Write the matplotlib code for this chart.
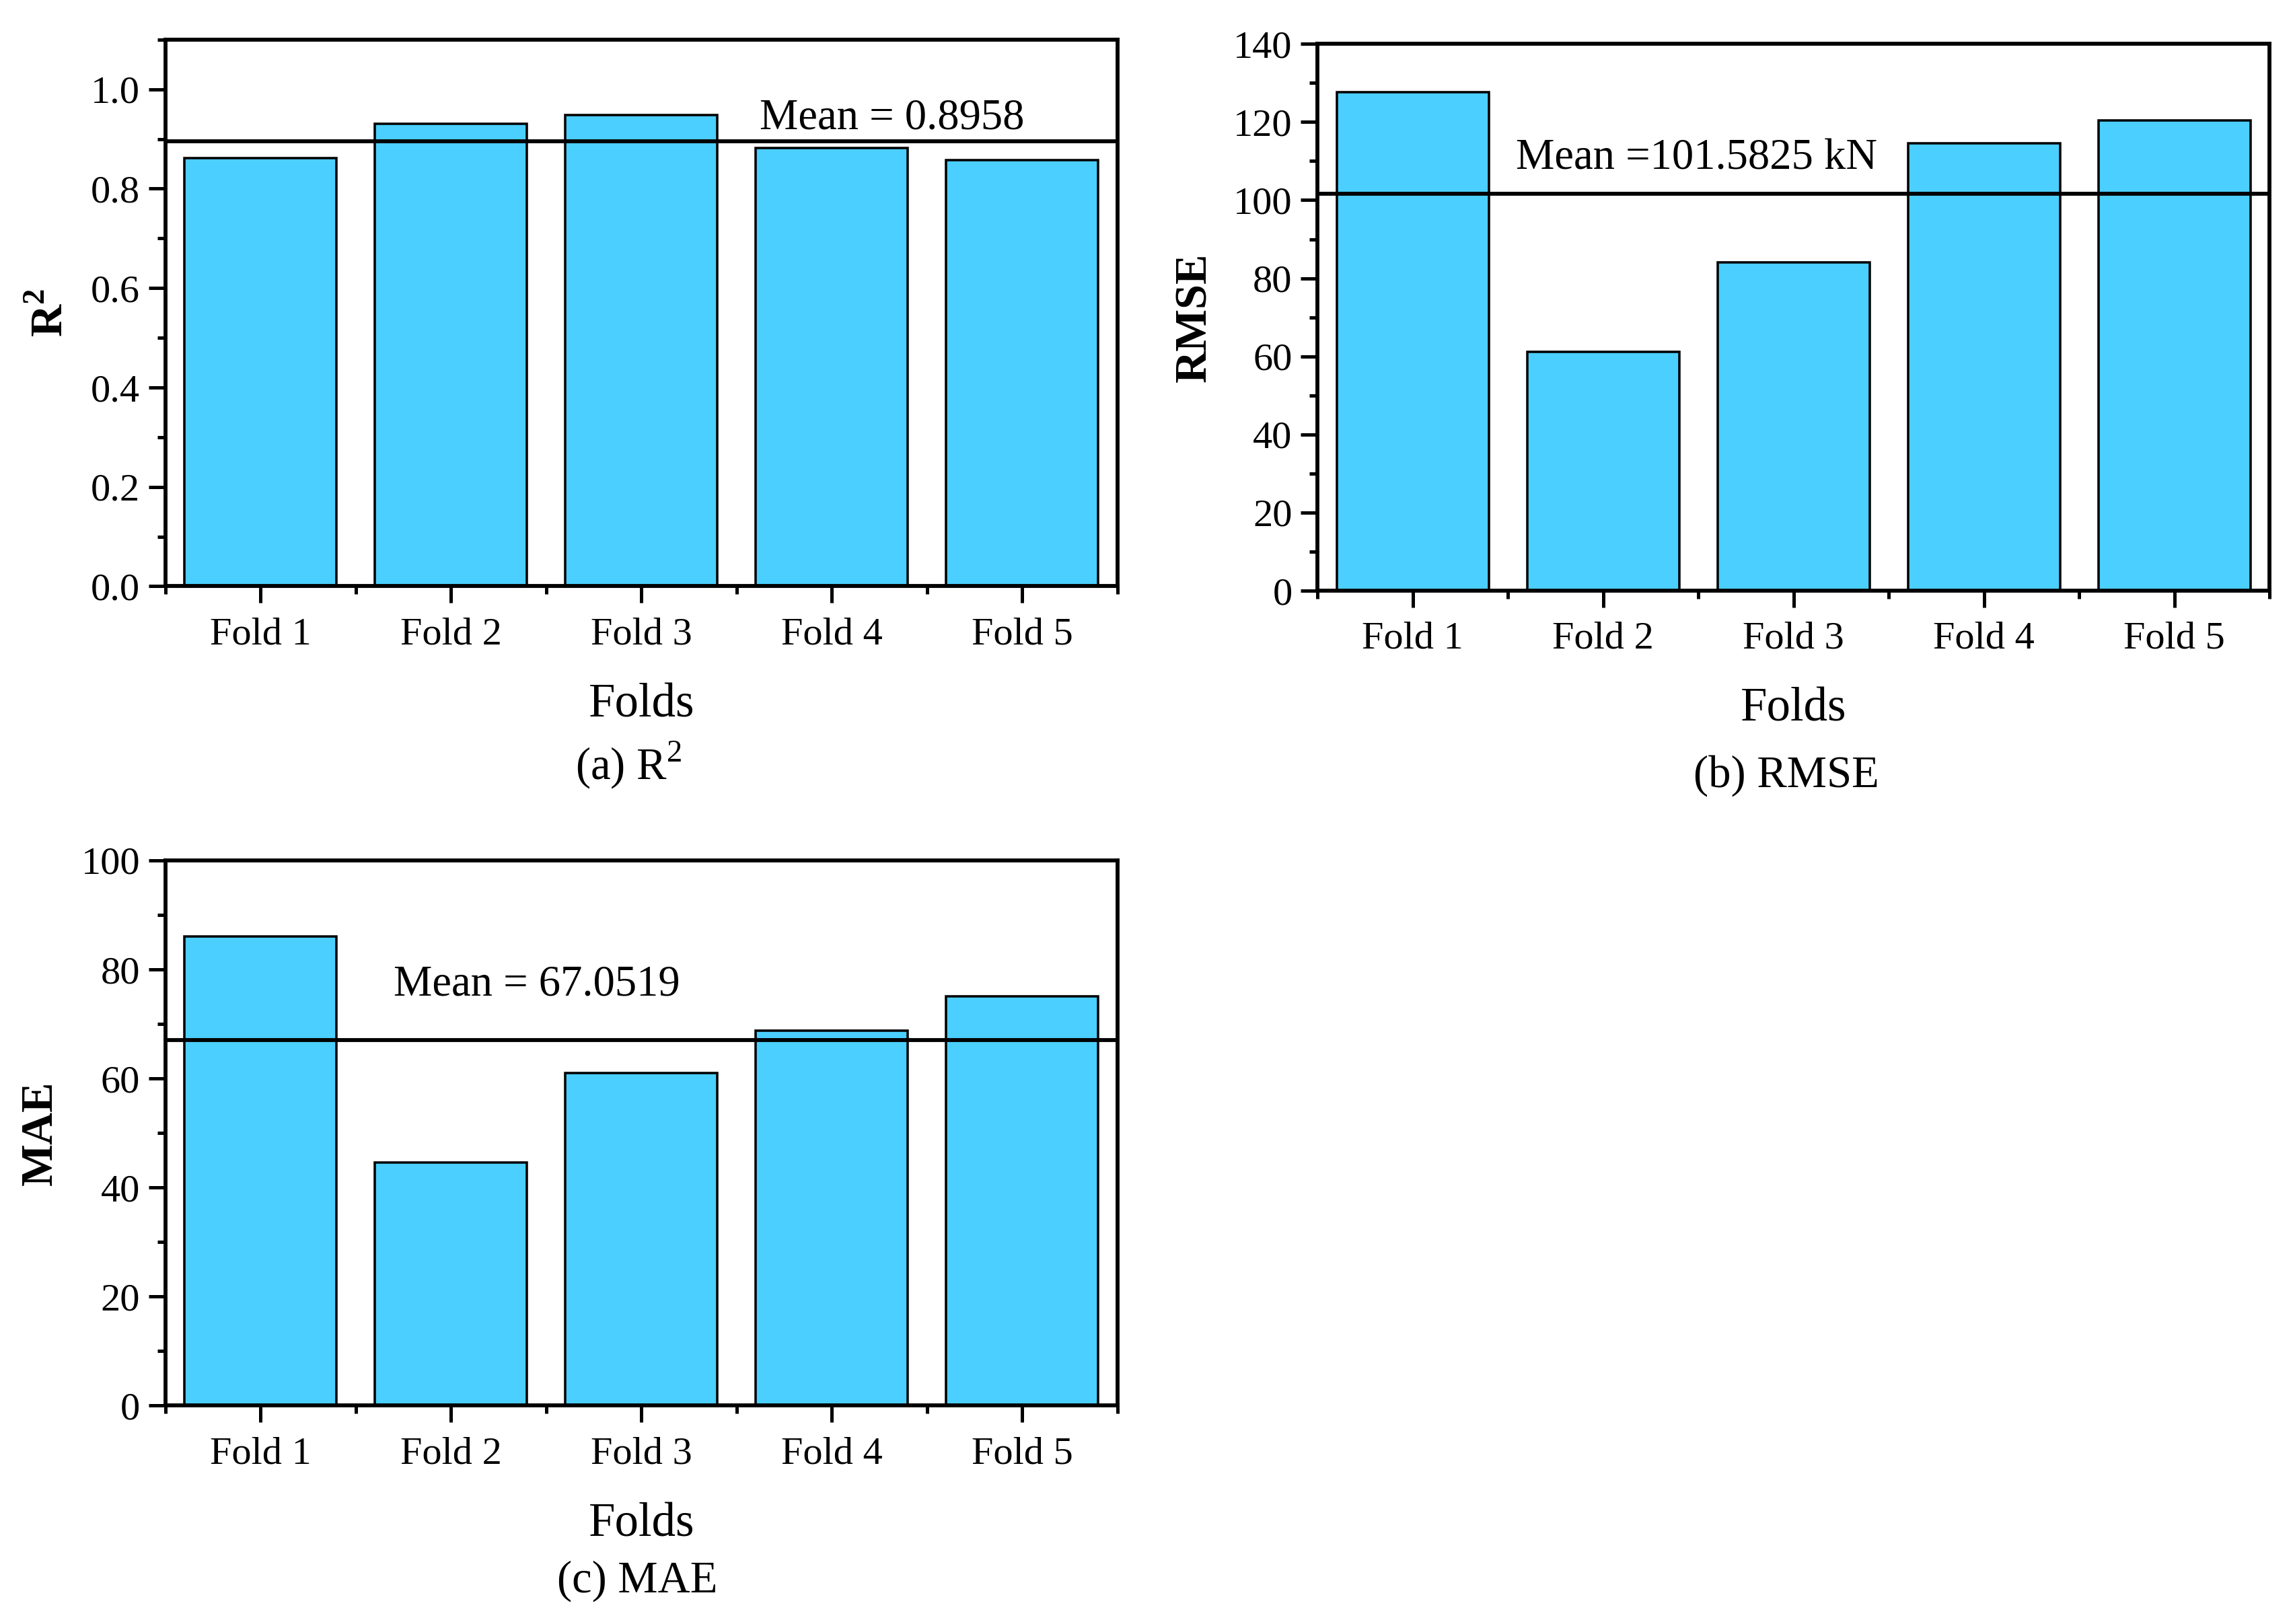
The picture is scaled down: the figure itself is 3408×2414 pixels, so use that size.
import numpy as np
import matplotlib
matplotlib.use("Agg")
import matplotlib.pyplot as plt
from matplotlib.ticker import MultipleLocator, FormatStrFormatter

plt.rcParams['font.family'] = ['Liberation Serif', 'DejaVu Serif']
plt.rcParams['mathtext.fontset'] = 'custom'
plt.rcParams['mathtext.rm'] = 'Liberation Serif'
plt.rcParams['mathtext.bf'] = 'Liberation Serif:bold'

# data
folds = ['Fold 1', 'Fold 2', 'Fold 3', 'Fold 4', 'Fold 5']
r2 = [0.861, 0.930, 0.948, 0.882, 0.858]
rmse = [127.6, 61.2, 84.1, 114.5, 120.5]
mae = [86.0, 44.6, 61.0, 68.8, 75.0]
r2_mean = 0.8958
rmse_mean = 101.5825
mae_mean = 67.0519

bar_color = '#4ACFFF'

fig = plt.figure(figsize=(11.36, 8.047), dpi=300)

# axes boxes in figure fractions
ax_a = fig.add_axes([0.0721, 0.639, 0.4152, 0.3366])
ax_b = fig.add_axes([0.5746, 0.6363, 0.4152, 0.3366])
ax_c = fig.add_axes([0.0721, 0.1345, 0.4152, 0.3357])

x = np.arange(1, len(folds) + 1)


def draw(ax, vals, mean, ylab, ylim, major, minor, mean_txt, txt_xy, label_x):
    ax.bar(x, vals, width=0.8, color=bar_color, edgecolor='black', linewidth=0.85, zorder=2)
    ax.axhline(mean, color='black', linewidth=1.4, zorder=3)
    ax.text(txt_xy[0], txt_xy[1], mean_txt, fontsize=15.5, ha='left', va='center', zorder=4)
    ax.set_xlim(0.5, 5.5)
    ax.set_ylim(*ylim)
    ax.set_xticks(x)
    ax.set_xticklabels(folds)
    ax.set_xticks(np.arange(0.5, 6.0, 1.0), minor=True)
    ax.yaxis.set_major_locator(MultipleLocator(major))
    ax.yaxis.set_minor_locator(MultipleLocator(minor))
    for s in ax.spines.values():
        s.set_linewidth(1.4)
    ax.tick_params(which='major', direction='out', length=6, width=1.2, labelsize=14)
    ax.tick_params(which='minor', direction='out', length=2.8, width=1.2)
    ax.tick_params(axis='x', which='major', pad=5)
    ax.tick_params(axis='y', which='major', pad=3)
    ax.set_xlabel('Folds', fontsize=17, labelpad=11)
    ax.set_ylabel(ylab, fontsize=16, fontweight='bold')
    ax.yaxis.set_label_coords(label_x, 0.5)
    ax.yaxis.label.set_verticalalignment('center')


draw(ax_a, r2, r2_mean, r'$\mathbf{R}^\mathbf{2}$', (0, 1.1), 0.2, 0.1,
     'Mean = 0.8958', (3.62, 0.942), -0.12)
ax_a.yaxis.set_major_formatter(FormatStrFormatter('%.1f'))
draw(ax_b, rmse, rmse_mean, 'RMSE', (0, 140), 20, 10,
     'Mean =101.5825 kN', (1.54, 110.7), -0.129)
draw(ax_c, mae, mae_mean, 'MAE', (0, 100), 20, 10,
     'Mean = 67.0519', (1.70, 77.2), -0.131)

fig.text(0.274, 0.529, r'(a) R$^2$', fontsize=16, ha='center', va='center')
fig.text(0.779, 0.5224, '(b) RMSE', fontsize=16, ha='center', va='center')
fig.text(0.278, 0.0265, '(c) MAE', fontsize=16, ha='center', va='center')

fig.savefig('out.png', dpi=300)
